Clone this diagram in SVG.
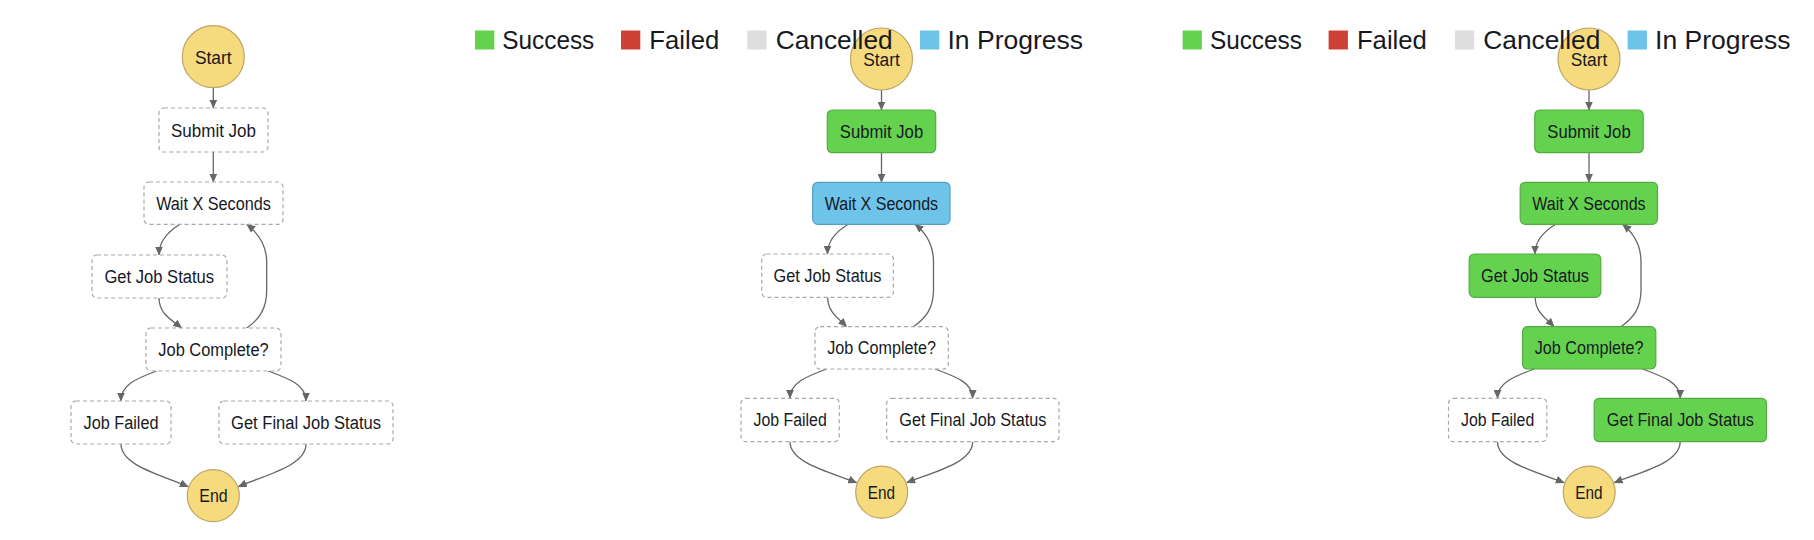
<svg xmlns="http://www.w3.org/2000/svg" width="1814" height="540" viewBox="0 0 1814 540">
<defs>
<marker id="ah" viewBox="0 0 9 8" markerWidth="9" markerHeight="8" refX="8.5" refY="4" orient="auto" markerUnits="userSpaceOnUse">
<path d="M0,0 L9,4 L0,8 z" fill="#666"/>
</marker>
<style>
.t{font-family:"Liberation Sans",Arial,sans-serif;fill:#16191f;text-anchor:middle;lengthAdjust:spacingAndGlyphs}
.lg{font-family:"Liberation Sans",Arial,sans-serif;fill:#16191f;font-size:26px}
.d{fill:#fff;stroke:#a8a8a8;stroke-width:1.2;stroke-dasharray:4 3}
.ok{fill:#65d24f;stroke:#53ab42;stroke-width:1.2}
.ip{fill:#6dc3e8;stroke:#559fc2;stroke-width:1.2}
.term{fill:#f6da7e;stroke:#bda564;stroke-width:1.2}
.c path{fill:none;stroke:#666;stroke-width:1.3;marker-end:url(#ah)}
</style>
</defs>
<rect width="1814" height="540" fill="#fff"/>

<!-- connectors -->
<g id="connectors" class="c">
<g id="conn-left">
<path d="M213.3,87.7 L213.3,108"/>
<path d="M213.3,152 L213.3,182"/>
<path d="M180,224.3 C169,231 159,240 159,255"/>
<path d="M159,298 C159,313 170,319 181.7,328"/>
<path d="M246.7,328 C260,319 266.7,308 266.7,290 L266.7,262 C266.7,245 258,233 246.7,224.3"/>
<path d="M156.7,371 C135,379 121,385 121,401"/>
<path d="M268.3,371 C290,379 306,385 306,401"/>
<path d="M121,444 C121,466 162,475 188.3,486.7"/>
<path d="M306,444 C306,466 265,475 238.3,486.7"/>
</g>
<g id="conn-mid">
<path d="M881.5,90 L881.5,110"/>
<path d="M881.5,152.7 L881.5,182.3"/>
<path d="M848.3,224.3 C837,231 827.5,240 827.5,254"/>
<path d="M827.7,297.3 C827.7,312 838,318 846.7,326.7"/>
<path d="M913.3,326.7 C926,318 933.5,308 933.5,290 L933.5,262 C933.5,245 926,233 915,224.3"/>
<path d="M826.7,369 C805,377 790,383 790,398.3"/>
<path d="M935,369 C957,377 972.7,383 972.7,398.3"/>
<path d="M790,441.7 C790,463 830,472 856.7,482.7"/>
<path d="M972.7,441.7 C972.7,463 933,472 906.7,482.7"/>
</g>
<g id="conn-right" transform="translate(707.5,0)">
<path d="M881.5,90 L881.5,110"/>
<path d="M881.5,152.7 L881.5,182.3"/>
<path d="M848.3,224.3 C837,231 827.5,240 827.5,254"/>
<path d="M827.7,297.3 C827.7,312 838,318 846.7,326.7"/>
<path d="M913.3,326.7 C926,318 933.5,308 933.5,290 L933.5,262 C933.5,245 926,233 915,224.3"/>
<path d="M826.7,369 C805,377 790,383 790,398.3"/>
<path d="M935,369 C957,377 972.7,383 972.7,398.3"/>
<path d="M790,441.7 C790,463 830,472 856.7,482.7"/>
<path d="M972.7,441.7 C972.7,463 933,472 906.7,482.7"/>
</g>
</g>

<!-- left panel -->
<g id="left-start"><circle class="term" cx="213.3" cy="56.7" r="31"/><text class="t" x="213.3" y="63.5" font-size="18" textLength="36.7" lengthAdjust="spacingAndGlyphs">Start</text></g>
<g id="left-submit"><rect class="d" x="159" y="108" width="109" height="44" rx="5"/><text class="t" x="213.5" y="136.5" font-size="18" textLength="85" lengthAdjust="spacingAndGlyphs">Submit Job</text></g>
<g id="left-wait"><rect class="d" x="144" y="182" width="139" height="42.3" rx="5"/><text class="t" x="213.5" y="209.5" font-size="18" textLength="114.7" lengthAdjust="spacingAndGlyphs">Wait X Seconds</text></g>
<g id="left-getstatus"><rect class="d" x="92" y="255" width="135" height="43" rx="5"/><text class="t" x="159.3" y="282.8" font-size="18" textLength="109.7" lengthAdjust="spacingAndGlyphs">Get Job Status</text></g>
<g id="left-complete"><rect class="d" x="146" y="328" width="135" height="43" rx="5"/><text class="t" x="213.5" y="355.8" font-size="18" textLength="110.4" lengthAdjust="spacingAndGlyphs">Job Complete?</text></g>
<g id="left-failed"><rect class="d" x="71" y="401" width="100" height="43" rx="5"/><text class="t" x="121" y="428.8" font-size="18" textLength="75" lengthAdjust="spacingAndGlyphs">Job Failed</text></g>
<g id="left-final"><rect class="d" x="219" y="401" width="174" height="43" rx="5"/><text class="t" x="306" y="428.8" font-size="18" textLength="150" lengthAdjust="spacingAndGlyphs">Get Final Job Status</text></g>
<g id="left-end"><circle class="term" cx="213.3" cy="495.7" r="26"/><text class="t" x="213.5" y="502.2" font-size="18" textLength="28.4" lengthAdjust="spacingAndGlyphs">End</text></g>

<!-- middle panel -->
<g id="mid-start"><circle class="term" cx="881.5" cy="59" r="31"/><text class="t" x="881.5" y="66" font-size="17.6" textLength="36.7" lengthAdjust="spacingAndGlyphs">Start</text></g>
<g id="mid-submit"><rect class="ok" x="827.3" y="110" width="108.4" height="42.7" rx="5"/><text class="t" x="881.5" y="137.6" font-size="17.6" textLength="83.3" lengthAdjust="spacingAndGlyphs">Submit Job</text></g>
<g id="mid-wait"><rect class="ip" x="812.7" y="182.3" width="137.3" height="42" rx="5"/><text class="t" x="881.4" y="209.5" font-size="17.6" textLength="113.3" lengthAdjust="spacingAndGlyphs">Wait X Seconds</text></g>
<g id="mid-getstatus"><rect class="d" x="761.7" y="254" width="131.6" height="43.3" rx="5"/><text class="t" x="827.5" y="281.9" font-size="17.6" textLength="108" lengthAdjust="spacingAndGlyphs">Get Job Status</text></g>
<g id="mid-complete"><rect class="d" x="815" y="326.7" width="133.3" height="42.3" rx="5"/><text class="t" x="881.6" y="354.1" font-size="17.6" textLength="108.7" lengthAdjust="spacingAndGlyphs">Job Complete?</text></g>
<g id="mid-failed"><rect class="d" x="741" y="398.3" width="98.3" height="43.4" rx="5"/><text class="t" x="790.1" y="426.3" font-size="17.6" textLength="73.3" lengthAdjust="spacingAndGlyphs">Job Failed</text></g>
<g id="mid-final"><rect class="d" x="886.7" y="398.3" width="172.3" height="43.4" rx="5"/><text class="t" x="972.8" y="426.3" font-size="17.6" textLength="147" lengthAdjust="spacingAndGlyphs">Get Final Job Status</text></g>
<g id="mid-end"><circle class="term" cx="881.7" cy="492.2" r="26"/><text class="t" x="881.5" y="498.5" font-size="17.6" textLength="27.3" lengthAdjust="spacingAndGlyphs">End</text></g>

<!-- right panel -->
<g transform="translate(707.5,0)">
<g id="right-start"><circle class="term" cx="881.5" cy="59" r="31"/><text class="t" x="881.5" y="66" font-size="17.6" textLength="36.7" lengthAdjust="spacingAndGlyphs">Start</text></g>
<g id="right-submit"><rect class="ok" x="827.3" y="110" width="108.4" height="42.7" rx="5"/><text class="t" x="881.5" y="137.6" font-size="17.6" textLength="83.3" lengthAdjust="spacingAndGlyphs">Submit Job</text></g>
<g id="right-wait"><rect class="ok" x="812.7" y="182.3" width="137.3" height="42" rx="5"/><text class="t" x="881.4" y="209.5" font-size="17.6" textLength="113.3" lengthAdjust="spacingAndGlyphs">Wait X Seconds</text></g>
<g id="right-getstatus"><rect class="ok" x="761.7" y="254" width="131.6" height="43.3" rx="5"/><text class="t" x="827.5" y="281.9" font-size="17.6" textLength="108" lengthAdjust="spacingAndGlyphs">Get Job Status</text></g>
<g id="right-complete"><rect class="ok" x="815" y="326.7" width="133.3" height="42.3" rx="5"/><text class="t" x="881.6" y="354.1" font-size="17.6" textLength="108.7" lengthAdjust="spacingAndGlyphs">Job Complete?</text></g>
<g id="right-failed"><rect class="d" x="741" y="398.3" width="98.3" height="43.4" rx="5"/><text class="t" x="790.1" y="426.3" font-size="17.6" textLength="73.3" lengthAdjust="spacingAndGlyphs">Job Failed</text></g>
<g id="right-final"><rect class="ok" x="886.7" y="398.3" width="172.3" height="43.4" rx="5"/><text class="t" x="972.8" y="426.3" font-size="17.6" textLength="147" lengthAdjust="spacingAndGlyphs">Get Final Job Status</text></g>
<g id="right-end"><circle class="term" cx="881.7" cy="492.2" r="26"/><text class="t" x="881.5" y="498.5" font-size="17.6" textLength="27.3" lengthAdjust="spacingAndGlyphs">End</text></g>
</g>

<!-- legends -->
<g id="legend-mid">
<rect x="475" y="30.5" width="19.3" height="19" fill="#65d24f"/>
<text class="lg" x="502.3" y="49.3" textLength="92" lengthAdjust="spacingAndGlyphs">Success</text>
<rect x="621" y="30.5" width="19.3" height="19" fill="#cf4037"/>
<text class="lg" x="649.3" y="49.3" textLength="70" lengthAdjust="spacingAndGlyphs">Failed</text>
<rect x="747.3" y="30.5" width="19.3" height="19" fill="#dedede"/>
<text class="lg" x="775.7" y="49.3" textLength="117" lengthAdjust="spacingAndGlyphs">Cancelled</text>
<rect x="920" y="30.5" width="19.3" height="19" fill="#6dc3e8"/>
<text class="lg" x="947.5" y="49.3" textLength="135.5" lengthAdjust="spacingAndGlyphs">In Progress</text>
</g>
<g id="legend-right" transform="translate(707.6,0)">
<rect x="475" y="30.5" width="19.3" height="19" fill="#65d24f"/>
<text class="lg" x="502.3" y="49.3" textLength="92" lengthAdjust="spacingAndGlyphs">Success</text>
<rect x="621" y="30.5" width="19.3" height="19" fill="#cf4037"/>
<text class="lg" x="649.3" y="49.3" textLength="70" lengthAdjust="spacingAndGlyphs">Failed</text>
<rect x="747.3" y="30.5" width="19.3" height="19" fill="#dedede"/>
<text class="lg" x="775.7" y="49.3" textLength="117" lengthAdjust="spacingAndGlyphs">Cancelled</text>
<rect x="920" y="30.5" width="19.3" height="19" fill="#6dc3e8"/>
<text class="lg" x="947.5" y="49.3" textLength="135.5" lengthAdjust="spacingAndGlyphs">In Progress</text>
</g>
</svg>
